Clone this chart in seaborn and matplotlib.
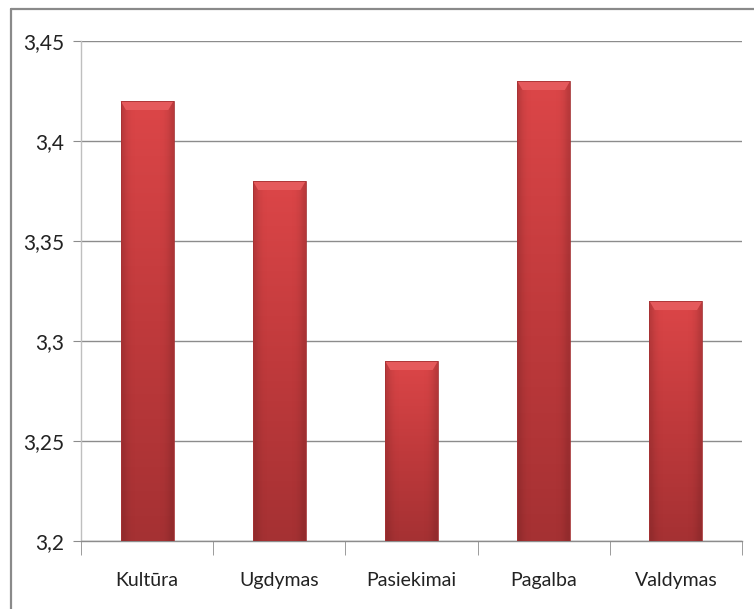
import numpy as np
import pandas as pd
import matplotlib
matplotlib.use("Agg")
import matplotlib.pyplot as plt
from matplotlib.lines import Line2D
from matplotlib.patches import Rectangle
from matplotlib.colors import LinearSegmentedColormap
from matplotlib.ticker import FuncFormatter
import seaborn as sns

# data
categories = ['Kultūra', 'Ugdymas', 'Pasiekimai', 'Pagalba', 'Valdymas']
scores = [3.42, 3.38, 3.29, 3.43, 3.32]
y_ticks = [3.2, 3.25, 3.3, 3.35, 3.4, 3.45]

df = pd.DataFrame({'Sritis': categories, 'Vidurkis': scores})

sns.set_style('white')
plt.rcParams['font.family'] = ['Lato', 'DejaVu Sans']

fig = plt.figure(figsize=(7.54, 6.09), dpi=100)
ax = fig.add_axes([81 / 754, 68 / 609, 661 / 754, 500 / 609])

ax = sns.barplot(data=df, x='Sritis', y='Vidurkis', color='#C73B3D',
                 width=0.4, errorbar=None, ax=ax, zorder=3)

ymin, ymax = 3.2, 3.45
ax.set_ylim(ymin, ymax)
ax.set_xlim(-0.5, len(categories) - 0.5)
ax.set_yticks(y_ticks)
ax.yaxis.set_major_formatter(FuncFormatter(lambda v, p: f'{v:g}'.replace('.', ',')))

# gradient fill on each bar, Excel-like bevel look
cmap = LinearSegmentedColormap.from_list('red_grad', ['#A53133', '#C03A3C', '#DC4648'])
edge_cmap = LinearSegmentedColormap.from_list('e', ['#00000000', '#6E1F21'])
for p in ax.patches:
    x0, w = p.get_x(), p.get_width()
    top = p.get_y() + p.get_height()
    y0 = ymin
    clip = Rectangle((x0, y0), w, top - y0, transform=ax.transData)
    grad = np.linspace(0, 1, 256).reshape(-1, 1)
    im = ax.imshow(grad, extent=[x0, x0 + w, y0, top], origin='lower',
                   cmap=cmap, aspect='auto', zorder=3.1)
    im.set_clip_path(clip)
    side = np.linspace(0, 1, 64).reshape(1, -1)
    side = np.clip(np.abs(side - 0.5) * 2, 0, 1) ** 6
    im2 = ax.imshow(np.vstack([side] * 2), extent=[x0, x0 + w, y0, top], origin='lower',
                    cmap=edge_cmap, aspect='auto', alpha=0.3, zorder=3.2)
    im2.set_clip_path(clip)
    # light bevel at the top
    bev = 0.0045
    ax.fill([x0, x0 + w, x0 + w - 0.04, x0 + 0.04],
            [top, top, top - bev, top - bev],
            color='#E55A5C', zorder=3.3, lw=0)
    p.set_edgecolor('#A53234')
    p.set_linewidth(0.6)
    p.set_facecolor('none')
    p.set_zorder(3.4)

ax.grid(axis='y', color='#8C8C8C', linewidth=1.0, zorder=0)
ax.set_axisbelow(True)
ax.set_xlabel('')
ax.set_ylabel('')

for s in ['top', 'right']:
    ax.spines[s].set_visible(False)
ax.spines['left'].set_color('#BFBFBF')
ax.spines['bottom'].set_color('#8C8C8C')
ax.spines['left'].set_linewidth(1.0)
ax.spines['bottom'].set_linewidth(1.0)

ax.tick_params(axis='y', left=True, length=6, color='#8C8C8C', labelsize=15,
               labelcolor='#222222', pad=6)
ax.set_xticks(np.arange(len(categories)))
ax.set_xticklabels(categories)
ax.set_xticks(np.arange(-0.5, len(categories)), minor=True)
ax.tick_params(axis='x', which='major', length=0, labelsize=14,
               labelcolor='#222222', pad=22)
ax.tick_params(axis='x', which='minor', bottom=True, length=10, color='#8C8C8C')

# chart area border (only top and left edges visible in the reference)
fig.add_artist(Line2D([11 / 754, 1.0], [1 - 9 / 609, 1 - 9 / 609],
                      transform=fig.transFigure, color='#8A8A8A', lw=1.6))
fig.add_artist(Line2D([11 / 754, 11 / 754], [0.0, 1 - 9 / 609],
                      transform=fig.transFigure, color='#8A8A8A', lw=1.6))

plt.savefig('out.png', dpi=100)
